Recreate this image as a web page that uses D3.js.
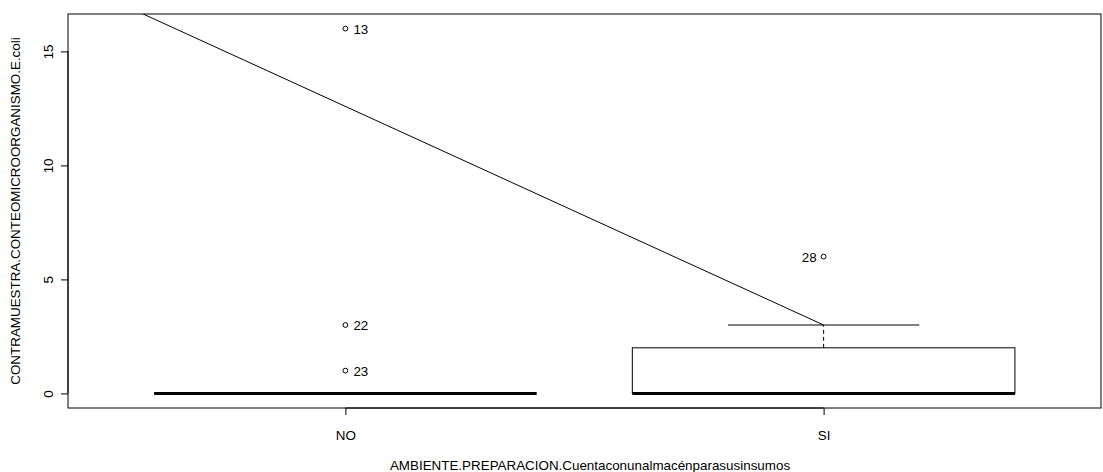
<!DOCTYPE html>
<html>
<head>
<meta charset="utf-8">
<script src="https://cdn.jsdelivr.net/npm/d3@7"></script>
<style>
  html, body { margin: 0; padding: 0; background: #fff; }
  svg { display: block; font-family: "Liberation Sans", Arial, sans-serif; }
</style>
</head>
<body>
<svg id="chart" width="1103" height="472"></svg>
<script>
// ---- data ----
const categories = ["NO", "SI"];
const q1 = [0, 0];
const medians = [0, 0];
const q3 = [0, 2];
const whiskerLow = [0, 0];
const whiskerHigh = [0, 3];
const outlierGroup = ["NO", "NO", "NO", "SI"];
const outlierValue = [16, 3, 1, 6];
const outlierLabel = ["13", "22", "23", "28"];
const outlierSide = ["right", "right", "right", "left"];
const lineX = [0.5, 2];
const lineY = [17.38, 3];
const yTicks = [0, 5, 10, 15];
const xTitle = "AMBIENTE.PREPARACION.Cuentaconunalmacénparasusinsumos";
const yTitle = "CONTRAMUESTRA.CONTEOMICROORGANISMO.E.coli";

// ---- layout ----
const svg = d3.select("#chart");
const L = 68, R = 1101, T = 14, B = 408;
const FS = 13.4;

const x = d3.scaleLinear().domain([0.42, 2.58]).range([L, R]);
const y = d3.scaleLinear().domain([-0.64, 16.64]).range([B, T]);
const pos = c => categories.indexOf(c) + 1;

svg.append("defs").append("clipPath").attr("id", "clip")
  .append("rect").attr("x", L).attr("y", T).attr("width", R - L).attr("height", B - T);

const g = svg.append("g");

// boxes
categories.forEach((c, i) => {
  const cx = i + 1;
  g.append("line").attr("x1", x(cx)).attr("x2", x(cx))
    .attr("y1", y(q3[i])).attr("y2", y(whiskerHigh[i]))
    .attr("stroke", "#000").attr("stroke-dasharray", "4,3");
  g.append("line").attr("x1", x(cx)).attr("x2", x(cx))
    .attr("y1", y(q1[i])).attr("y2", y(whiskerLow[i]))
    .attr("stroke", "#000").attr("stroke-dasharray", "4,3");
  [whiskerHigh[i], whiskerLow[i]].forEach(v => {
    g.append("line").attr("x1", x(cx - 0.2)).attr("x2", x(cx + 0.2))
      .attr("y1", y(v)).attr("y2", y(v)).attr("stroke", "#000");
  });
  g.append("rect").attr("x", x(cx - 0.4)).attr("y", y(q3[i]))
    .attr("width", x(cx + 0.4) - x(cx - 0.4)).attr("height", y(q1[i]) - y(q3[i]))
    .attr("fill", "none").attr("stroke", "#000").attr("stroke-width", 1);
  g.append("line").attr("x1", x(cx - 0.4)).attr("x2", x(cx + 0.4))
    .attr("y1", y(medians[i])).attr("y2", y(medians[i]))
    .attr("stroke", "#000").attr("stroke-width", 3);
});

// outliers
outlierValue.forEach((v, i) => {
  const px = x(pos(outlierGroup[i])), py = y(v);
  g.append("circle").attr("cx", px).attr("cy", py).attr("r", 2.4)
    .attr("fill", "none").attr("stroke", "#000").attr("stroke-width", 1);
  const right = outlierSide[i] === "right";
  g.append("text").attr("x", right ? px + 8 : px - 7).attr("y", py + 5)
    .attr("text-anchor", right ? "start" : "end")
    .attr("font-size", FS).attr("fill", "#000").text(outlierLabel[i]);
});

// trend line
g.append("path").attr("clip-path", "url(#clip)")
  .datum(lineX.map((d, i) => [d, lineY[i]]))
  .attr("d", d3.line().x(d => x(d[0])).y(d => y(d[1])))
  .attr("fill", "none").attr("stroke", "#000").attr("stroke-width", 1);

// frame
svg.append("rect").attr("x", L).attr("y", T).attr("width", R - L).attr("height", B - T)
  .attr("fill", "none").attr("stroke", "#000").attr("stroke-width", 1);

// y axis
const yAxis = d3.axisLeft(y).tickValues(yTicks).tickSize(7).tickPadding(0).tickFormat(d3.format("d"));
const ya = svg.append("g").attr("transform", `translate(${L},0)`).call(yAxis);
ya.select(".domain").attr("d", `M-0,${y(yTicks[0])}V${y(yTicks[yTicks.length - 1])}`).attr("stroke", "#000");
ya.selectAll(".tick line").attr("stroke", "#000");
ya.selectAll(".tick text")
  .attr("transform", "rotate(-90)")
  .attr("x", 0).attr("y", -15).attr("dy", 0)
  .attr("text-anchor", "middle")
  .attr("font-size", FS).attr("fill", "#000")
  .style("font-family", "Liberation Sans, Arial, sans-serif");

// x axis
const xAxis = d3.axisBottom(x).tickValues([1, 2]).tickSize(7).tickPadding(0)
  .tickFormat(d => categories[d - 1]);
const xa = svg.append("g").attr("transform", `translate(0,${B})`).call(xAxis);
xa.select(".domain").attr("d", `M${x(1)},0H${x(2)}`).attr("stroke", "#000");
xa.selectAll(".tick line").attr("stroke", "#000");
xa.selectAll(".tick text").attr("y", 32).attr("dy", 0).attr("font-size", FS)
  .attr("fill", "#000").style("font-family", "Liberation Sans, Arial, sans-serif");

// titles
svg.append("text").attr("x", 590).attr("y", 470).attr("text-anchor", "middle")
  .attr("font-size", FS).attr("fill", "#000").text(xTitle);
svg.append("text").attr("transform", `translate(20,${(T + B) / 2}) rotate(-90)`)
  .attr("text-anchor", "middle").attr("font-size", FS).attr("fill", "#000").text(yTitle);
</script>
</body>
</html>
